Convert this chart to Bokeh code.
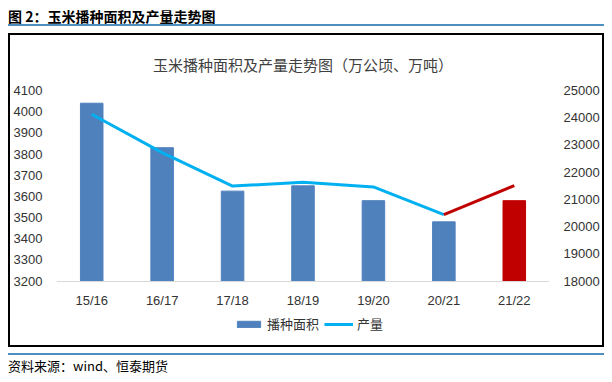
from bokeh.plotting import figure
from bokeh.models import (Range1d, LinearAxis, ColumnDataSource, Legend, LegendItem,
                          FixedTicker)
from bokeh.embed import file_html
from bokeh.resources import INLINE
from jinja2 import Template

# ---- data ----
seasons = ["15/16", "16/17", "17/18", "18/19", "19/20", "20/21", "21/22"]
area = [4040, 3830, 3625, 3650, 3580, 3480, 3580]          # 播种面积 (万公顷)
output = [24130, 22720, 21490, 21630, 21460, 20440, 21510]  # 产量 (万吨)
area_ticks = list(range(3200, 4101, 100))
output_ticks = list(range(18000, 25001, 1000))
fig_caption = "图 2：玉米播种面积及产量走势图"
chart_title = "玉米播种面积及产量走势图（万公顷、万吨）"
source_note = "资料来源：wind、恒泰期货"

BLUE_BAR = "#4F81BD"
RED = "#C00000"
BLUE_LINE = "#00B0F0"
RULE = "#4F8FC0"
CJK = "Noto Sans CJK SC"
NUM = "Liberation Sans"

bar_colors = [BLUE_BAR] * (len(seasons) - 1) + [RED]

W, H = 592, 310
FL, FR, FT, FB = 42, 543, 48, 306   # frame edges in canvas px
AXIS_PX = 196                        # pixel height of the value band 3200..4100
EXTRA = (FB - FT - AXIS_PX) / AXIS_PX  # extra room under the value band for labels/legend

a0, a1 = area_ticks[0], area_ticks[-1]
o0, o1 = output_ticks[0], output_ticks[-1]

p = figure(x_range=seasons, y_range=Range1d(a0 - (a1 - a0) * EXTRA, a1),
           width=W, height=H, output_backend="svg", toolbar_location=None,
           min_border_left=FL, min_border_right=W - FR,
           min_border_top=FT, min_border_bottom=H - FB,
           title=chart_title)
p.outline_line_color = None
p.background_fill_color = "white"
p.border_fill_color = "white"
p.xgrid.grid_line_color = None
p.ygrid.grid_line_color = None
p.title.align = "center"
p.title.text_font = CJK
p.title.text_font_size = "15px"
p.title.text_font_style = "normal"
p.title.text_color = "#404040"
p.title.standoff = 32
p.extra_y_ranges = {"out": Range1d(o0 - (o1 - o0) * EXTRA, o1)}

bars_src = ColumnDataSource(dict(x=seasons, top=area, color=bar_colors))
bars = p.vbar(x="x", top="top", bottom=a0, width=0.32, color="color",
              source=bars_src)
blue_src = ColumnDataSource(dict(x=seasons[:-1], y=output[:-1]))
red_src = ColumnDataSource(dict(x=seasons[-2:], y=output[-2:]))
ln = p.line(x="x", y="y", source=blue_src, y_range_name="out", line_color=BLUE_LINE,
            line_width=3)
p.line(x="x", y="y", source=red_src, y_range_name="out", line_color=RED, line_width=3)

# axes
yl = p.yaxis[0]
yl.ticker = FixedTicker(ticks=area_ticks)
yr = LinearAxis(y_range_name="out", ticker=FixedTicker(ticks=output_ticks))
p.add_layout(yr, "right")
for ax in (yl, yr):
    ax.axis_line_color = None
    ax.major_tick_line_color = None
    ax.minor_tick_line_color = None
    ax.major_label_standoff = 8
    ax.major_label_text_font = NUM
    ax.major_label_text_font_size = "13px"
    ax.major_label_text_color = "#333333"
xa = p.xaxis[0]
xa.fixed_location = a0
xa.axis_line_color = "#D9D9D9"
xa.axis_line_width = 1
xa.major_tick_line_color = None
xa.minor_tick_line_color = None
xa.major_label_standoff = 6
xa.major_label_text_font = NUM
xa.major_label_text_font_size = "13px"
xa.major_label_text_color = "#333333"

legend = Legend(items=[LegendItem(label="播种面积", renderers=[bars]),
                       LegendItem(label="产量", renderers=[ln])],
                orientation="horizontal", location=(178, 8),
                padding=0, margin=0, spacing=5, label_standoff=4,
                glyph_width=29, glyph_height=8, label_height=14,
                border_line_color=None, background_fill_alpha=0,
                label_text_font=CJK, label_text_font_size="13px",
                label_text_color="#333333")
p.add_layout(legend, "center")

page = Template("""<!DOCTYPE html>
<html lang="zh">
<head>
<meta charset="utf-8">
<title>chart</title>
{{ bokeh_css }}
{{ bokeh_js }}
<style>
html, body { margin: 0; padding: 0; background: #fff; }
body { margin: 8px; width: 596px; overflow: hidden; }
#cap { font-family: 'Noto Sans CJK SC'; font-size: 14px; font-weight: bold; line-height: 16px;
       height: 16px; border-bottom: 2px solid """ + RULE + """; color: #000; white-space: nowrap; }
#box { margin-top: 7px; width: 592px; height: 310px; border: 2px solid #000; }
#src { margin-top: 6px; border-top: 2px solid """ + RULE + """; padding-top: 3px;
       font-family: 'Noto Sans CJK SC'; font-size: 13px; line-height: 16px; color: #000;
       white-space: nowrap; }
</style>
</head>
<body>
<div id="cap">""" + fig_caption + """</div>
<div id="box">{{ plot_div }}</div>
<div id="src">""" + source_note + """</div>
{{ plot_script }}
</body>
</html>""")

open("out.html", "w").write(file_html(p, INLINE, template=page))
